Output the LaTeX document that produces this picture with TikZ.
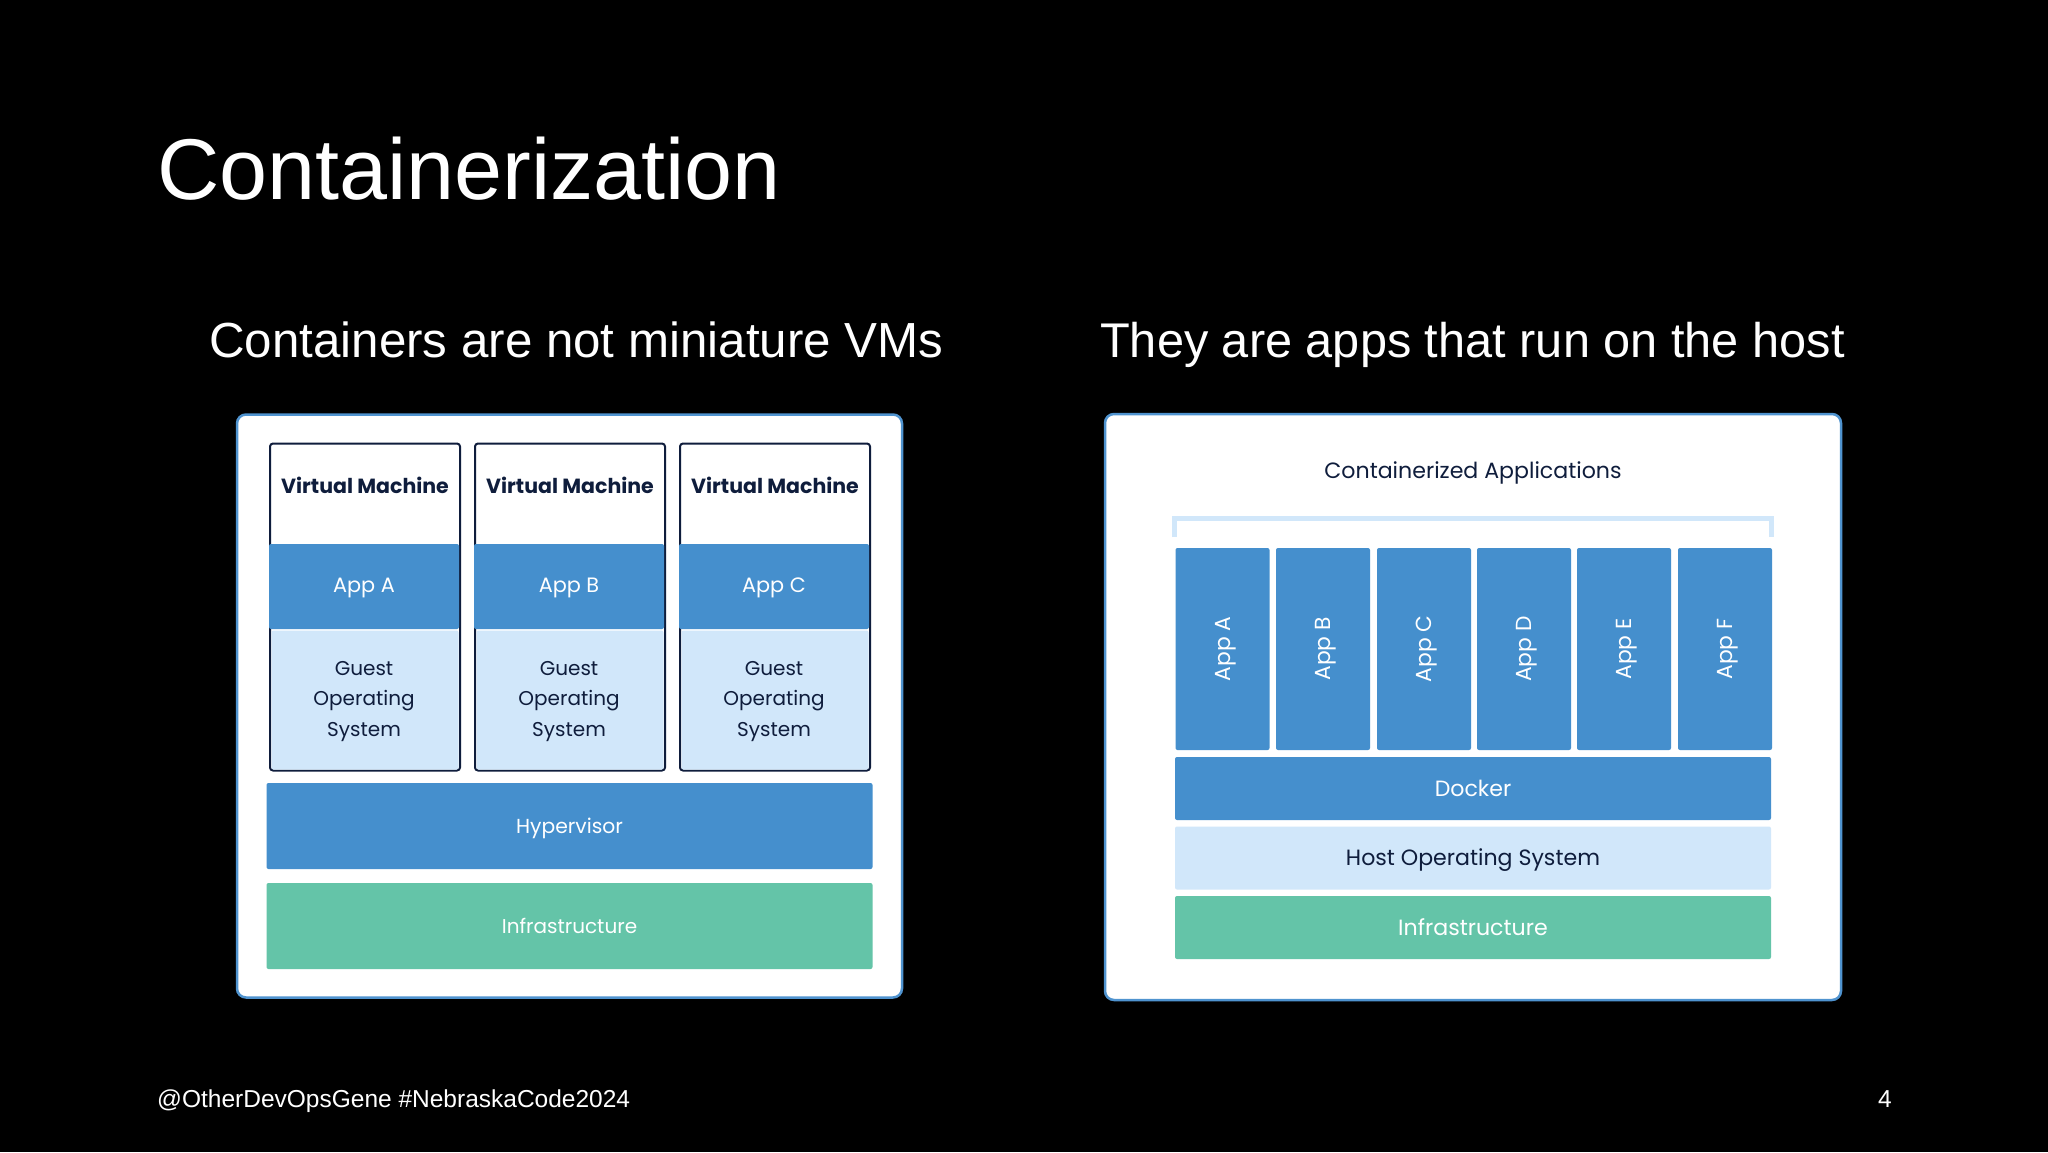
\documentclass[tikz,border=0pt]{standalone}
\usepackage{fontspec}
\setmainfont{Liberation Sans}
\newfontfamily\boxfont{Poppins}
\usetikzlibrary{positioning}
\definecolor{appblue}{HTML}{458FCD}
\definecolor{paleblue}{HTML}{D1E7FA}
\definecolor{infragreen}{HTML}{64C4A8}
\definecolor{darknavy}{HTML}{0F1D3C}
\definecolor{panelline}{HTML}{4F93CF}

\begin{document}
\begin{tikzpicture}[
    x=1pt, y=-1pt,
    panel/.style={rectangle, draw=panelline, line width=2.5pt, fill=white, rounded corners=9pt, inner sep=0pt},
    vmbox/.style={rectangle, draw=darknavy, line width=2pt, fill=white, rounded corners=3pt, inner sep=0pt, minimum width=190pt, minimum height=327pt},
    band/.style={rectangle, rounded corners=2pt, inner sep=0pt, text height=19pt, text depth=4pt, font=\boxfont\fontsize{20.3}{31}\selectfont},
    bluebar/.style={band, fill=appblue, text=white},
    palebar/.style={band, fill=paleblue, text=darknavy},
    greenbar/.style={band, fill=infragreen, text=white},
    wide/.style={font=\boxfont\fontsize{22.1}{28}\selectfont},
    vmapp/.style={bluebar, text height=15pt, minimum width=190pt, minimum height=85pt, font=\boxfont\fontsize{20.8}{31}\selectfont},
    guesttext/.style={text=darknavy, inner sep=0pt, align=center, font=\boxfont\fontsize{20}{30.7}\selectfont},
    vmtext/.style={text=darknavy, inner sep=0pt, font=\boxfont\bfseries\fontsize{20.5}{26}\selectfont},
    slide/.style={text=white, inner sep=0pt}
]
    % Background
    \fill[black] (0,0) rectangle (2048,1152);
    \useasboundingbox (0,0) rectangle (2048,1152);

    % Titles
    \node[slide, anchor=base west, font=\fontsize{86.3}{89}\selectfont] (title) at (157,199) {Containerization};
    \node[slide, anchor=base west, font=\fontsize{49.3}{50}\selectfont] (leftsub) at (209,357) {Containers are not miniature VMs};
    \node[slide, anchor=base west, font=\fontsize{48.7}{50}\selectfont] (rightsub) at (1100,357) {They are apps that run on the host};

    % Left panel
    \node[panel, minimum width=665pt, minimum height=583pt] (vmpanel) at (569.5,706) {};
    \node[vmbox] (vma) at (365,607) {};
    \node[vmbox] (vmb) at (570,607) {};
    \node[vmbox] (vmc) at (775,607) {};
    \node[vmtext] (vmalabel) at (365,485.5) {Virtual Machine};
    \node[vmtext] (vmblabel) at (570,485.5) {Virtual Machine};
    \node[vmtext] (vmclabel) at (775,485.5) {Virtual Machine};
    \node[palebar, minimum width=187pt, minimum height=139pt] (guesta) at (365,700) {};
    \node[palebar, minimum width=187pt, minimum height=139pt] (guestb) at (570,700) {};
    \node[palebar, minimum width=187pt, minimum height=139pt] (guestc) at (775,700) {};
    \node[guesttext] (guestalabel) at (364,701.5) {Guest\\Operating\\System};
    \node[guesttext] (guestblabel) at (569,701.5) {Guest\\Operating\\System};
    \node[guesttext] (guestclabel) at (774,701.5) {Guest\\Operating\\System};
    \node[vmapp] (appa) at (364,586.5) {App A};
    \node[vmapp] (appb) at (569,586.5) {App B};
    \node[vmapp] (appc) at (774,586.5) {App C};
    \node[bluebar, minimum width=606pt, minimum height=86pt] (hypervisor) at (569.5,826) {Hypervisor};
    \node[greenbar, minimum width=606pt, minimum height=86pt, font=\boxfont\fontsize{20}{31}\selectfont] (vminfra) at (569.5,926) {Infrastructure};

    % Right panel
    \node[panel, minimum width=736pt, minimum height=586pt] (dockerpanel) at (1473,707) {};
    \node[text=darknavy, inner sep=0pt, font=\boxfont\fontsize{22.1}{28}\selectfont] (applabel) at (1473,473) {Containerized Applications};
    \draw[paleblue, line width=5pt] (1174,537) |- (1771,518) -- (1771,537);
    \node[bluebar, minimum width=202pt, minimum height=94pt, rotate=90, font=\boxfont\fontsize{21.8}{31}\selectfont] (boxa) at (1222.5,649) {App A};
    \node[bluebar, minimum width=202pt, minimum height=94pt, rotate=90, font=\boxfont\fontsize{21.8}{31}\selectfont] (boxb) at (1323,649) {App B};
    \node[bluebar, minimum width=202pt, minimum height=94pt, rotate=90, font=\boxfont\fontsize{21.8}{31}\selectfont] (boxc) at (1424,649) {App C};
    \node[bluebar, minimum width=202pt, minimum height=94pt, rotate=90, font=\boxfont\fontsize{21.8}{31}\selectfont] (boxd) at (1524,649) {App D};
    \node[bluebar, minimum width=202pt, minimum height=94pt, rotate=90, font=\boxfont\fontsize{21.8}{31}\selectfont] (boxe) at (1624,649) {App E};
    \node[bluebar, minimum width=202pt, minimum height=94pt, rotate=90, font=\boxfont\fontsize{21.8}{31}\selectfont] (boxf) at (1725,649) {App F};
    \node[bluebar, wide, minimum width=596pt, minimum height=63pt] (docker) at (1473,788.5) {Docker};
    \node[palebar, wide, minimum width=596pt, minimum height=63pt] (hostos) at (1473,858) {Host Operating System};
    \node[greenbar, wide, minimum width=596pt, minimum height=63pt] (dockerinfra) at (1473,927.5) {Infrastructure};

    % Footer
    \node[slide, anchor=base west, font=\fontsize{24.5}{25}\selectfont] (handle) at (157,1107) {@OtherDevOpsGene \#NebraskaCode2024};
    \node[slide, anchor=base, font=\fontsize{24.5}{25}\selectfont] (pagenum) at (1885,1107) {4};
\end{tikzpicture}
\end{document}
